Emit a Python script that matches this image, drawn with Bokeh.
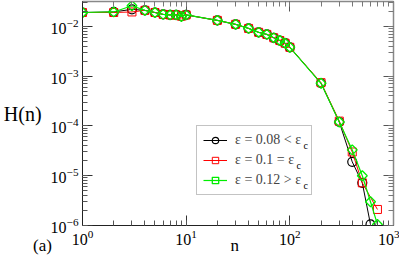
import math
from bokeh.plotting import figure
from bokeh.models import (LogAxis, LogTicker, Legend, LegendItem, Label, Range1d,
                          CustomJSTickFormatter)
from bokeh.embed import file_html
from bokeh.resources import INLINE

# ---- data ----
n_black = [1, 2, 3, 4, 5, 6, 7, 8, 9, 10, 20, 30, 40, 50, 60, 70, 80, 90, 100,
           200, 300, 400, 500, 600]
h_black = [0.019, 0.0195, 0.022, 0.021, 0.019, 0.0174, 0.017, 0.017, 0.016, 0.017,
           0.0132, 0.011, 0.0091, 0.0076, 0.0069, 0.0059, 0.0052, 0.0046, 0.0038,
           7.2e-4, 1.2e-4, 1.9e-5, 7.2e-6, 1.05e-6]

n_red = [1, 2, 3, 4, 5, 6, 7, 8, 9, 10, 20, 30, 40, 50, 60, 70, 80, 90, 100,
         200, 300, 400, 500, 700]
h_red = [0.019, 0.019, 0.0195, 0.021, 0.019, 0.0174, 0.017, 0.017, 0.016, 0.017,
         0.0132, 0.011, 0.0091, 0.0076, 0.0069, 0.0059, 0.0052, 0.0046, 0.0038,
         7.4e-4, 1.25e-4, 3.0e-5, 7.2e-6, 2.1e-6]

n_green = [1, 2, 3, 4, 5, 6, 7, 8, 9, 10, 20, 30, 40, 50, 60, 70, 80, 90, 100,
           200, 300, 400, 500, 600, 700]
h_green = [0.019, 0.0195, 0.026, 0.021, 0.019, 0.0174, 0.017, 0.017, 0.0158, 0.017,
           0.0132, 0.011, 0.0091, 0.0076, 0.0069, 0.0059, 0.0052, 0.0046, 0.0038,
           7.2e-4, 1.2e-4, 3.3e-5, 1.0e-5, 3.0e-6, 1.05e-6]

labels = ["ε = 0.08 < ε\u00a0", "ε = 0.1 = ε\u00a0", "ε = 0.12 > ε\u00a0"]
colors = ["#000000", "#ff0000", "#00ee00"]
x_title = "n"
panel_tag = "(a)"

SERIF = "Liberation Serif"
NBSP = "\u00a0"

p = figure(width=399, height=257, x_axis_type="log", y_axis_type="log",
           x_range=Range1d(1, 1000), y_range=Range1d(1e-6, 10 ** -1.5),
           output_backend="svg", toolbar_location=None,
           min_border_left=76, min_border_right=6, min_border_top=1,
           min_border_bottom=32)
p.grid.visible = False
p.background_fill_color = "white"
p.border_fill_color = "white"
p.outline_line_color = "#888888"
p.outline_line_width = 1

for ax in (p.xaxis[0], p.yaxis[0]):
    ax.ticker = LogTicker(num_minor_ticks=10, desired_num_ticks=6)
    ax.major_tick_in = 10
    ax.major_tick_out = 0
    ax.minor_tick_in = 5
    ax.minor_tick_out = 0
    ax.major_tick_line_color = "#333333"
    ax.minor_tick_line_color = "#555555"
    ax.axis_line_color = "#222222"
    ax.major_label_text_font = SERIF
    ax.major_label_text_font_size = "16px"
    ax.major_label_text_color = "black"
    ax.major_label_standoff = 4

yax = p.yaxis[0]
yax.axis_label = "H(n)"
yax.axis_label_orientation = "horizontal"
yax.axis_label_text_font = SERIF
yax.axis_label_text_font_style = "normal"
yax.axis_label_text_font_size = "20px"
yax.axis_label_text_color = "black"
yax.axis_label_standoff = 6

# x-axis title "n" with the panel tag "(a)" on the same line (labels outside
# the frame are clipped in this Bokeh version, so both share the axis label)
xax = p.xaxis[0]
xax.axis_label = panel_tag + NBSP * 42 + x_title + NBSP * 48
xax.axis_label_text_font = SERIF
xax.axis_label_text_font_style = "normal"
xax.axis_label_text_font_size = "17px"
xax.axis_label_text_color = "black"
xax.axis_label_standoff = -12

for loc in ("above", "right"):
    ax = LogAxis(ticker=LogTicker(num_minor_ticks=10, desired_num_ticks=6),
                 formatter=CustomJSTickFormatter(code="return ''"))
    ax.major_tick_in = 10
    ax.major_tick_out = 0
    ax.minor_tick_in = 5
    ax.minor_tick_out = 0
    ax.major_tick_line_color = "#555555"
    ax.minor_tick_line_color = "#777777"
    ax.axis_line_color = "#888888"
    ax.axis_line_width = 1.5
    ax.major_label_text_font_size = "1px"
    ax.major_label_standoff = 0
    p.add_layout(ax, loc)

# series
l1 = p.line(n_black, h_black, line_color=colors[0], line_width=1)
s1 = p.scatter(n_black, h_black, marker="circle", size=9, fill_color=None,
               line_color=colors[0], line_width=1.2)
l2 = p.line(n_red, h_red, line_color=colors[1], line_width=1)
s2 = p.scatter(n_red, h_red, marker="square", size=8, fill_color=None,
               line_color=colors[1], line_width=1)
l3 = p.line(n_green, h_green, line_color=colors[2], line_width=1.2)
s3 = p.scatter(n_green, h_green, marker="square", angle=math.pi / 4, size=7,
               fill_color=None, line_color=colors[2], line_width=1.3)

legend = Legend(items=[LegendItem(label=labels[0], renderers=[l1, s1]),
                       LegendItem(label=labels[1], renderers=[l2, s2]),
                       LegendItem(label=labels[2], renderers=[l3, s3])],
                location=(114, 30), orientation="vertical",
                label_text_font=SERIF, label_text_font_size="14px",
                glyph_width=24, glyph_height=16, label_height=16,
                spacing=4, padding=6, margin=0, label_standoff=8,
                border_line_color="#888888", border_line_width=1,
                background_fill_alpha=0.0)
p.add_layout(legend)

# subscript c for epsilon_c in the legend labels
for i, dx in enumerate([69, 62, 69]):
    p.add_layout(Label(x=152 + dx, y=80 - 20 * i, x_units="screen", y_units="screen",
                       text="c", text_font=SERIF, text_font_size="10px",
                       text_color="black", text_baseline="middle", text_align="left",
                       level="overlay"))

open("out.html", "w").write(file_html(p, INLINE))
